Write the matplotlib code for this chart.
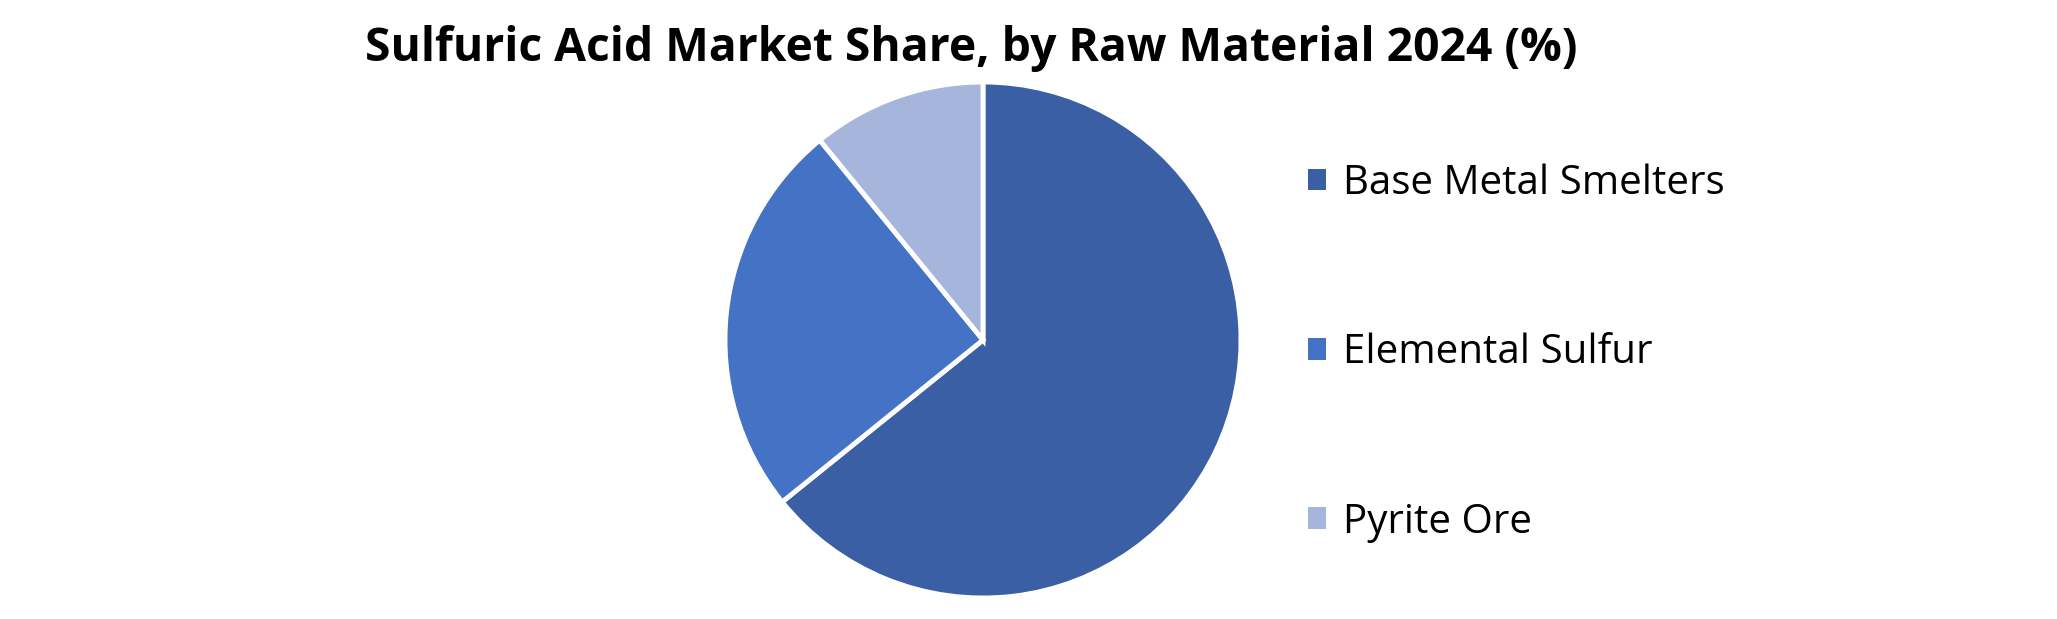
import matplotlib.pyplot as plt

# data
labels = ['Base Metal Smelters', 'Elemental Sulfur', 'Pyrite Ore']
shares = [64.2, 24.9, 10.9]
colors = ['#3A5FA4', '#4472C4', '#A6B5DC']

W, H = 2057, 619
fig = plt.figure(figsize=(W / 100, H / 100), dpi=100)

# pie axes placed in pixel terms
cx, cy, r = 983, 340, 258
ax = fig.add_axes([(cx - r) / W, (H - cy - r) / H, 2 * r / W, 2 * r / H])
wedges, _ = ax.pie(shares, colors=colors, startangle=90, counterclock=False,
                   radius=1, wedgeprops=dict(edgecolor='white', linewidth=3.5))
ax.set_xlim(-1, 1)
ax.set_ylim(-1, 1)
ax.set_aspect('equal')
ax.axis('off')

fig.text(971 / W, 1 - 49 / H, 'Sulfuric Acid Market Share, by Raw Material 2024 (%)',
         ha='center', va='center', fontsize=33.3, fontweight='bold', family='Open Sans')

leg = ax.legend(wedges, labels, loc='center left',
                bbox_to_anchor=(1288 / W, 1 - 353 / H), bbox_transform=fig.transFigure,
                frameon=False, prop=dict(family='Open Sans', size=29),
                handlelength=0.45, handleheight=0.45, handletextpad=0.42,
                labelspacing=3.2, borderpad=0)
for h in leg.legend_handles:
    h.set_edgecolor('none')

fig.savefig('out.png', dpi=100)
